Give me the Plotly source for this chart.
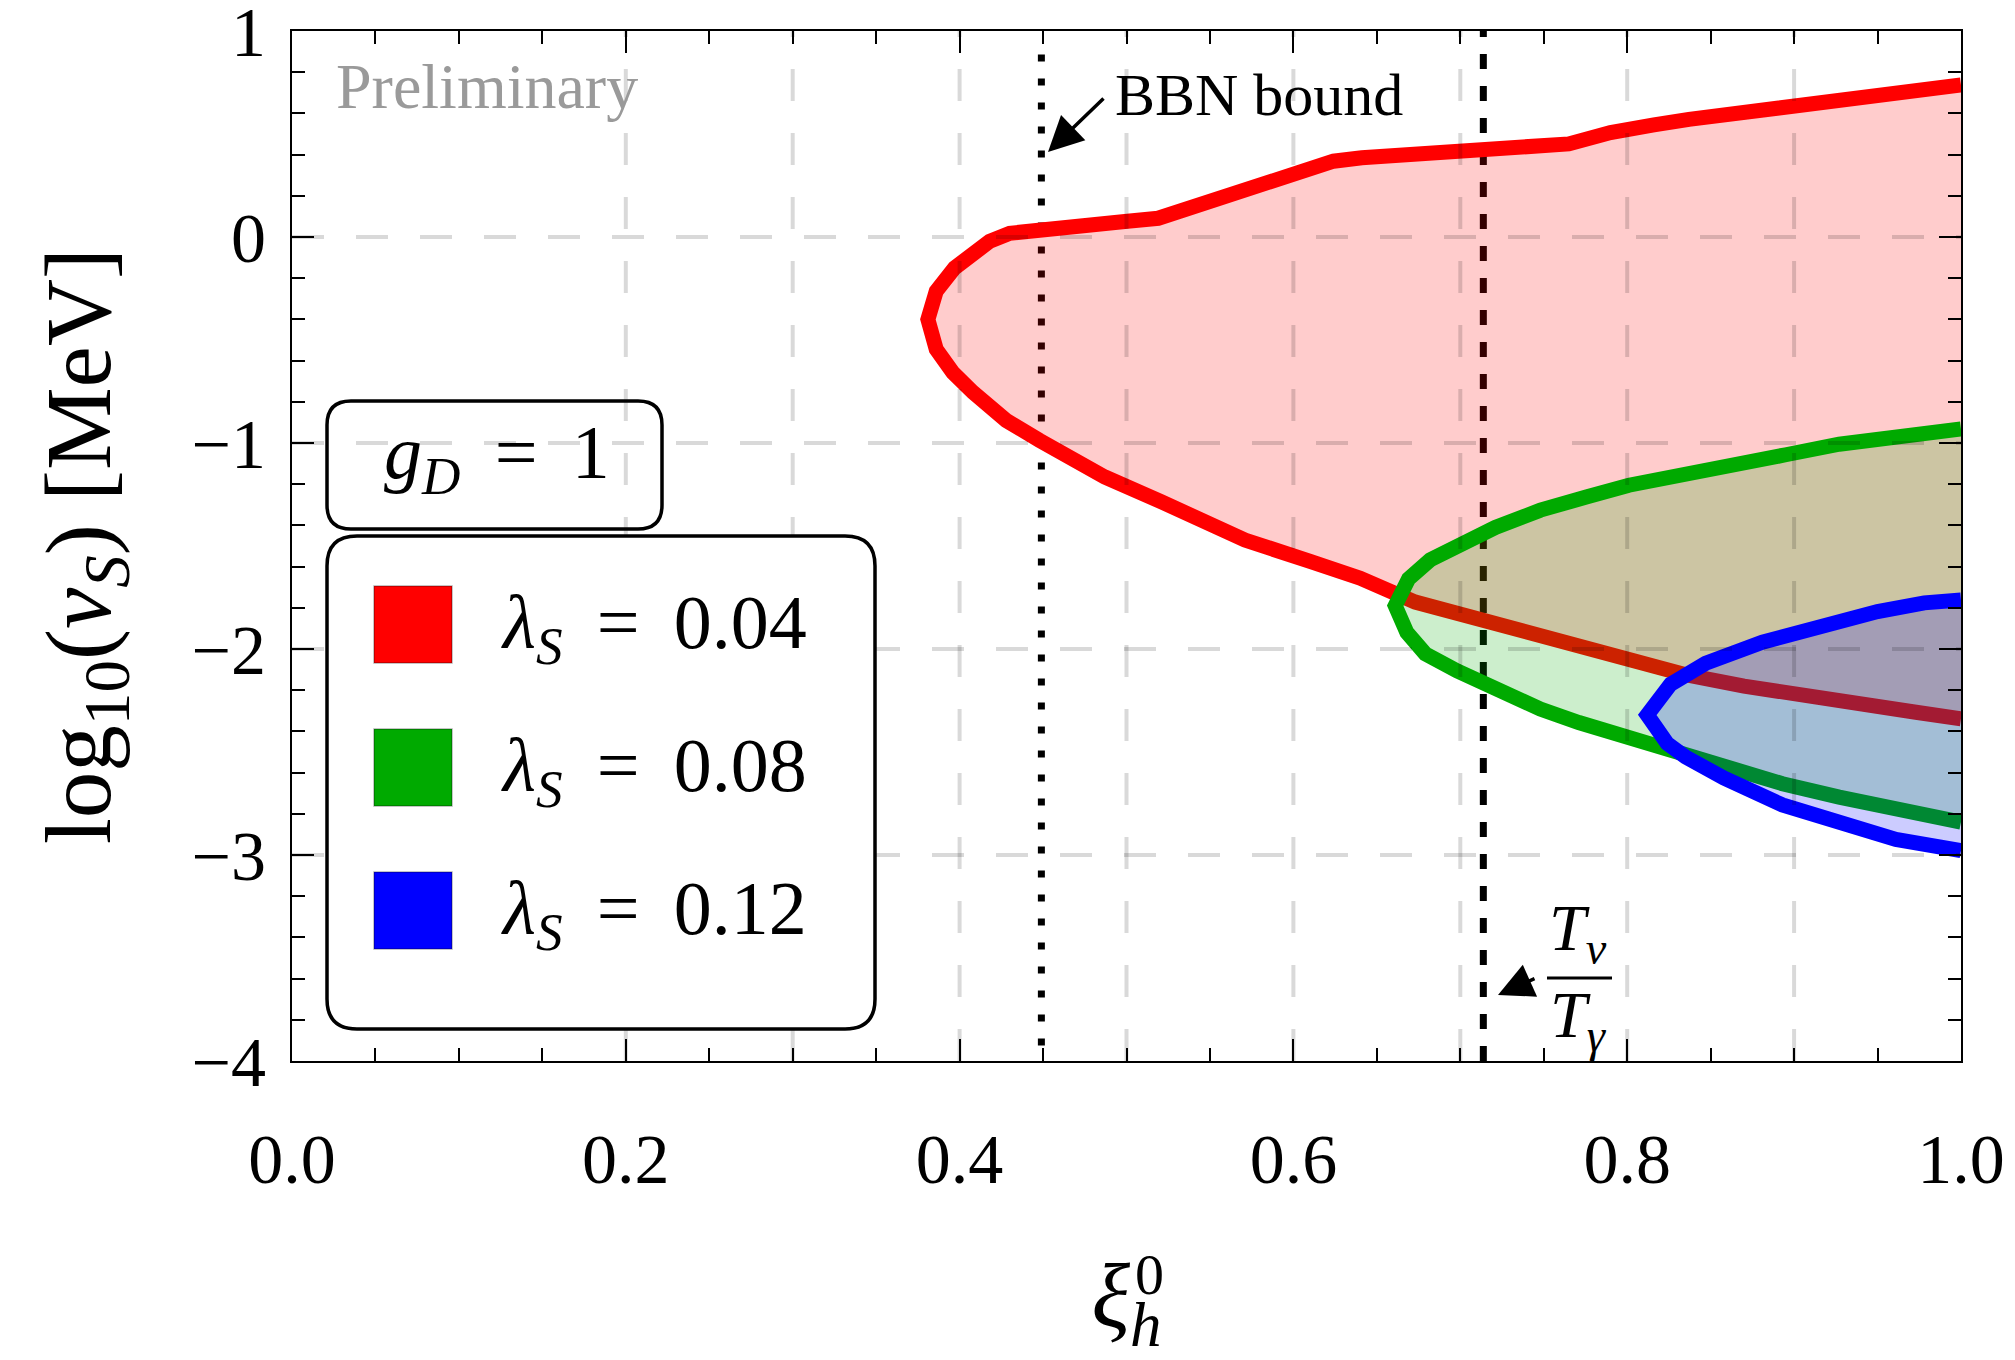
import plotly.graph_objects as go

# ---------------- data ----------------
red_upper_x = [0.381, 0.386, 0.397, 0.408, 0.418, 0.430, 0.448, 0.499, 0.519, 0.530, 0.551, 0.569,
               0.603, 0.624, 0.641, 0.667, 0.697, 0.727, 0.765, 0.790, 0.816, 0.837, 0.863, 0.897,
               0.910, 0.948, 1.000]
red_upper_y = [-0.400, -0.263, -0.150, -0.085, -0.021, 0.018, 0.034, 0.075, 0.091, 0.112, 0.172, 0.228,
               0.309, 0.368, 0.385, 0.398, 0.425, 0.437, 0.452, 0.507, 0.544, 0.571, 0.612, 0.636,
               0.657, 0.689, 0.738]
red_lower_x = [0.381, 0.386, 0.396, 0.408, 0.428, 0.448, 0.487, 0.521, 0.571, 0.610, 0.640, 0.673,
               0.698, 0.732, 0.767, 0.801, 0.835, 0.870, 0.904, 0.939, 0.973, 1.000]
red_lower_y = [-0.400, -0.545, -0.658, -0.754, -0.891, -0.988, -1.165, -1.286, -1.471, -1.575, -1.656, -1.772,
               -1.828, -1.902, -1.976, -2.041, -2.125, -2.180, -2.227, -2.264, -2.307, -2.339]

green_upper_x = [0.661, 0.669, 0.682, 0.698, 0.721, 0.748, 0.776, 0.801, 0.835, 0.870, 0.895, 0.927, 0.961, 1.000]
green_upper_y = [-1.790, -1.660, -1.567, -1.493, -1.410, -1.326, -1.261, -1.205, -1.149, -1.094, -1.057, -1.006, -0.964, -0.932]
green_lower_x = [0.661, 0.668, 0.679, 0.698, 0.721, 0.748, 0.771, 0.801, 0.831, 0.858, 0.893, 0.927, 0.961, 1.000]
green_lower_y = [-1.790, -1.920, -2.023, -2.106, -2.199, -2.292, -2.357, -2.431, -2.506, -2.580, -2.654, -2.719, -2.775, -2.840]

blue_upper_x = [0.812, 0.826, 0.847, 0.881, 0.916, 0.950, 0.978, 1.000]
blue_upper_y = [-2.320, -2.171, -2.069, -1.967, -1.883, -1.818, -1.776, -1.762]
blue_lower_x = [0.812, 0.824, 0.835, 0.858, 0.893, 0.927, 0.961, 1.000]
blue_lower_y = [-2.320, -2.459, -2.524, -2.627, -2.757, -2.849, -2.924, -2.979]

series_names = ["λ<sub>S</sub> = 0.04", "λ<sub>S</sub> = 0.08", "λ<sub>S</sub> = 0.12"]
EQ = "\u00a0\u2009=\u2009\u00a0"
legend_labels = ["<i>λ</i><sub><i>S</i></sub>" + EQ + "0.04",
                 "<i>λ</i><sub><i>S</i></sub>" + EQ + "0.08",
                 "<i>λ</i><sub><i>S</i></sub>" + EQ + "0.12"]
line_colors = ["rgb(255,0,0)", "rgb(0,170,0)", "rgb(0,0,255)"]
fill_colors = ["rgba(255,0,0,0.2)", "rgba(0,170,0,0.2)", "rgba(0,0,255,0.2)"]

bbn_bound_x = 0.449
t_ratio_x = 0.7138

x_ticks = [0.0, 0.2, 0.4, 0.6, 0.8, 1.0]
x_tick_labels = ["0.0", "0.2", "0.4", "0.6", "0.8", "1.0"]
y_ticks = [-4, -3, -2, -1, 0, 1]
y_tick_labels = ["\u22124", "\u22123", "\u22122", "\u22121", "0", "1"]
grid_x = [0.2, 0.3, 0.4, 0.5, 0.6, 0.7, 0.8, 0.9]
grid_y = [-3, -2, -1, 0]

# ---------------- geometry helpers (layout only) ----------------
W, H = 2015, 1360
L, R, T, B = 292, 1961, 31, 1061
X0, X1, Y0, Y1 = 0.0, 1.0, -4.0, 1.0


def dx(px):
    return X0 + (px - L) / (R - L) * (X1 - X0)


def dy(py):
    return Y1 - (py - T) / (B - T) * (Y1 - Y0)


def px_paper(px):
    return (px - L) / (R - L)


def py_paper(py):
    return 1 - (py - T) / (B - T)


def rrect(x0, y0, x1, y1, r):
    pts = [("M", [(x0 + r, y0)]), ("L", [(x1 - r, y0)]), ("Q", [(x1, y0), (x1, y0 + r)]),
           ("L", [(x1, y1 - r)]), ("Q", [(x1, y1), (x1 - r, y1)]), ("L", [(x0 + r, y1)]),
           ("Q", [(x0, y1), (x0, y1 - r)]), ("L", [(x0, y0 + r)]), ("Q", [(x0, y0), (x0 + r, y0)])]
    s = ""
    for cmd, ps in pts:
        s += cmd + " " + " ".join(f"{dx(a):.5f},{dy(b):.5f}" for a, b in ps) + " "
    return s + "Z"


FONT = "Liberation Serif"

fig = go.Figure()

# reference vertical lines (under the regions)
fig.add_trace(go.Scatter(x=[bbn_bound_x, bbn_bound_x], y=[0.886, -3.93], mode="lines",
                         line=dict(color="black", width=7, dash="7px,17px"),
                         showlegend=False, hoverinfo="skip"))
fig.add_trace(go.Scatter(x=[t_ratio_x, t_ratio_x], y=[-4, 1], mode="lines",
                         line=dict(color="black", width=7, dash="15px,17px"),
                         showlegend=False, hoverinfo="skip"))

curves = [(red_upper_x, red_upper_y, red_lower_x, red_lower_y),
          (green_upper_x, green_upper_y, green_lower_x, green_lower_y),
          (blue_upper_x, blue_upper_y, blue_lower_x, blue_lower_y)]
for (ux, uy, lx, ly), name, lc, fc in zip(curves, series_names, line_colors, fill_colors):
    xs = ux[::-1] + lx[1:]
    ys = uy[::-1] + ly[1:]
    fig.add_trace(go.Scatter(x=xs, y=ys, mode="lines", fill="toself", fillcolor=fc,
                             line=dict(color=lc, width=15), name=name,
                             showlegend=False, hoverinfo="skip"))

shapes = []
for gx in grid_x:
    shapes.append(dict(type="line", xref="x", yref="y", x0=gx, x1=gx, y0=-4, y1=1,
                       line=dict(color="rgba(0,0,0,0.15)", width=4, dash="32px,32px"), layer="above"))
for gy in grid_y:
    shapes.append(dict(type="line", xref="x", yref="y", x0=0, x1=1, y0=gy, y1=gy,
                       line=dict(color="rgba(0,0,0,0.15)", width=4, dash="32px,32px"), layer="above"))

# g_D box (transparent) and legend box (white)
shapes.append(dict(type="path", xref="x", yref="y", path=rrect(327, 401, 662, 529, 24),
                   line=dict(color="black", width=3.5), fillcolor="rgba(0,0,0,0)", layer="above"))
shapes.append(dict(type="path", xref="x", yref="y", path=rrect(327, 536, 875, 1029, 30),
                   line=dict(color="black", width=3.5), fillcolor="white", layer="above"))
sq_top = [586, 729, 872]
for top, lc in zip(sq_top, line_colors):
    shapes.append(dict(type="rect", xref="x", yref="y", x0=dx(374), x1=dx(452), y0=dy(top), y1=dy(top + 77),
                       fillcolor=lc, line=dict(color="rgba(0,0,0,0.3)", width=1.5), layer="above"))
# fraction bar of T_nu / T_gamma
shapes.append(dict(type="line", xref="x", yref="y", x0=dx(1547), x1=dx(1612), y0=dy(978), y1=dy(978),
                   line=dict(color="black", width=3), layer="above"))

annotations = []
annotations.append(dict(x=dx(334), y=dy(86), xref="x", yref="y", text="Preliminary", showarrow=False,
                        xanchor="left", yanchor="middle", font=dict(family=FONT, size=64, color="#9a9a9a")))
annotations.append(dict(x=dx(1113), y=dy(95), xref="x", yref="y", text="BBN bound", showarrow=False,
                        xanchor="left", yanchor="middle", font=dict(family=FONT, size=60, color="black")))
annotations.append(dict(x=dx(1048), y=dy(152), xref="x", yref="y", text="", showarrow=True,
                        ax=57, ay=-55, arrowhead=2, arrowwidth=3.5, arrowsize=2.0, arrowcolor="black"))
annotations.append(dict(x=dx(1498), y=dy(995), xref="x", yref="y", text="", showarrow=True,
                        ax=38, ay=-17, arrowhead=2, arrowwidth=3.5, arrowsize=2.0, arrowcolor="black"))
annotations.append(dict(x=dx(1578), y=dy(932), xref="x", yref="y", text="<i>T</i><sub><i>ν</i></sub>",
                        showarrow=False, xanchor="center", yanchor="middle",
                        font=dict(family=FONT, size=66, color="black")))
annotations.append(dict(x=dx(1578), y=dy(1019), xref="x", yref="y", text="<i>T</i><sub><i>γ</i></sub>",
                        showarrow=False, xanchor="center", yanchor="middle",
                        font=dict(family=FONT, size=66, color="black")))
annotations.append(dict(x=dx(497), y=dy(458), xref="x", yref="y",
                        text="<i>g</i><sub><i>D</i></sub>" + EQ + "1",
                        showarrow=False, xanchor="center", yanchor="middle",
                        font=dict(family=FONT, size=76, color="black")))
for cy, lab in zip([628, 771, 914], legend_labels):
    annotations.append(dict(x=dx(499), y=dy(cy), xref="x", yref="y", text=lab, showarrow=False,
                            xanchor="left", yanchor="middle", font=dict(family=FONT, size=76, color="black")))
# superscript 0 of the x-axis title (stacked over the subscript h)
annotations.append(dict(x=px_paper(1149), y=py_paper(1274), xref="paper", yref="paper", text="0",
                        showarrow=False, xanchor="center", yanchor="middle",
                        font=dict(family=FONT, size=58, color="black")))

axis_common = dict(showline=True, linecolor="black", linewidth=2, mirror="ticks", ticks="inside",
                   tickcolor="black", tickwidth=1.5, ticklen=22, showgrid=False, zeroline=False,
                   ticklabeloverflow="allow", automargin=False,
                   tickfont=dict(family=FONT, size=70, color="black"))

fig.update_layout(
    width=W, height=H,
    margin=dict(l=L, r=W - R, t=T, b=H - B, pad=0, autoexpand=False),
    paper_bgcolor="white", plot_bgcolor="white",
    font=dict(family=FONT, color="black"),
    showlegend=False,
    shapes=shapes, annotations=annotations,
    xaxis=dict(range=[X0, X1], tickmode="array", tickvals=x_ticks, ticktext=x_tick_labels,
               ticklabelstandoff=36,
               minor=dict(tickmode="linear", tick0=0, dtick=0.05, ticks="inside", ticklen=13,
                          tickwidth=1.5, tickcolor="black", showgrid=False),
               title=dict(text="<i>ξ</i><sub><i>h</i></sub>", font=dict(family=FONT, size=90), standoff=72),
               **axis_common),
    yaxis=dict(range=[Y0, Y1], tickmode="array", tickvals=y_ticks, ticktext=y_tick_labels,
               ticklabelstandoff=10,
               minor=dict(tickmode="linear", tick0=0, dtick=0.2, ticks="inside", ticklen=13,
                          tickwidth=1.5, tickcolor="black", showgrid=False),
               title=dict(text="log<sub>10</sub>(<i>v</i><sub><i>S</i></sub>) [MeV]",
                          font=dict(family=FONT, size=93), standoff=50),
               **axis_common),
)

fig.write_html("out.html")
